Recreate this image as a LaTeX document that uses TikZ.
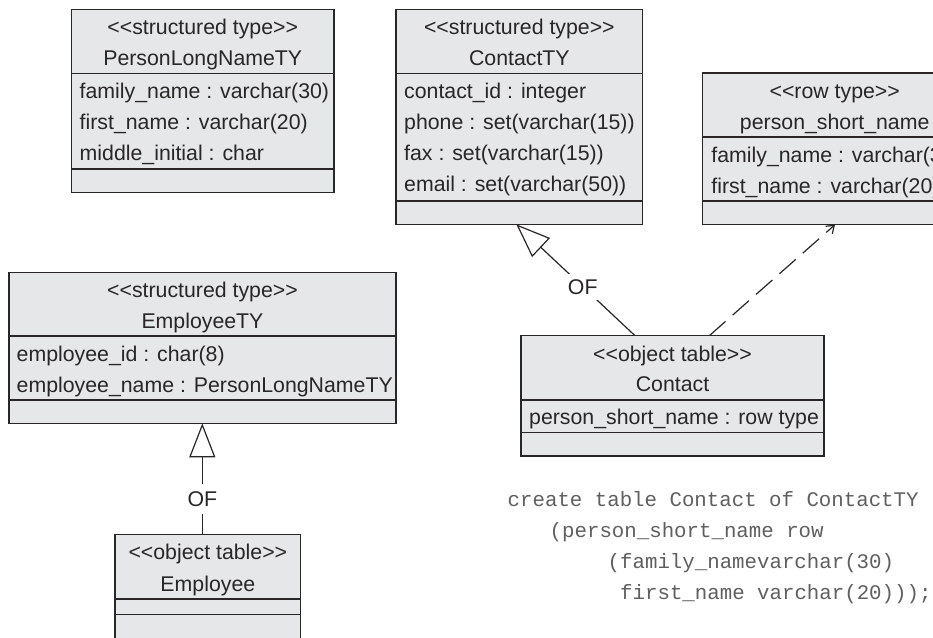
\documentclass[tikz,border=0pt]{standalone}
\usepackage{fontspec}
\setmainfont{Liberation Sans}
\newfontfamily\codefont{Liberation Mono}
\usetikzlibrary{arrows.meta,calc}

\definecolor{boxfill}{RGB}{230,231,232}
\definecolor{ink}{RGB}{40,38,39}
\definecolor{codeink}{RGB}{95,95,95}

\newcommand\umlfont{\fontsize{21.3}{25}\selectfont}

\tikzset{
  umlbox/.style={draw=ink, fill=boxfill, line width=1.4pt, rectangle,
    inner sep=0pt, outer sep=0pt, anchor=north west},
  rule/.style={draw=ink, line width=1.4pt},
  title/.style={anchor=base, inner sep=0pt, text=ink, font=\umlfont},
  attr/.style={anchor=base west, inner sep=0pt, text=ink, font=\umlfont},
  code/.style={anchor=base west, inner sep=0pt, text=codeink,
    font=\codefont\fontsize{20.75}{31}\selectfont},
  conn/.style={draw=ink, line width=1.2pt},
  gen/.style={conn, -{Triangle[open, length=34pt, width=26pt]}},
  dep/.style={conn, dash pattern=on 21.7pt off 9.5pt,
    -{Straight Barb[length=7pt, width=10pt]}},
  oflabel/.style={fill=white, inner xsep=3pt, inner ysep=7pt, text=ink, font=\umlfont},
}

% horizontal compartment rule of a class box, #2 points below its top edge
\newcommand\classrule[2]{%
  \draw[rule] ($(#1.north west)+(0,#2)$) -- ($(#1.north east)+(0,#2)$);}

\begin{document}
\begin{tikzpicture}[x=1pt, y=-1pt]
\useasboundingbox (0,0) rectangle (933,637);
\fill[white] (0,0) rectangle (933,637);
\clip (0,0) rectangle (933,637);

% ---- PersonLongNameTY
\node[umlbox, minimum width=262.5pt, minimum height=183.2pt] (plnty) at (71.5,9.3) {};
\classrule{plnty}{64}
\classrule{plnty}{159.7}
\node[title] (plnty-st) at ($(plnty.north)+(0,25)$) {<{}<structured type>{}>};
\node[title] (plnty-nm) at ($(plnty.north)+(0,56)$) {PersonLongNameTY};
\node[attr] (plnty-a1) at ($(plnty.north west)+(8,89)$) {family\_name : varchar(30)};
\node[attr] (plnty-a2) at ($(plnty.north west)+(8,120)$) {first\_name : varchar(20)};
\node[attr] (plnty-a3) at ($(plnty.north west)+(8,151)$) {middle\_initial : char};

% ---- ContactTY
\node[umlbox, minimum width=246.7pt, minimum height=215pt] (contactty) at (396,9.3) {};
\classrule{contactty}{64}
\classrule{contactty}{191.7}
\node[title] (contactty-st) at ($(contactty.north)+(0,25)$) {<{}<structured type>{}>};
\node[title] (contactty-nm) at ($(contactty.north)+(0,56)$) {ContactTY};
\node[attr] (contactty-a1) at ($(contactty.north west)+(8,89)$) {contact\_id : integer};
\node[attr] (contactty-a2) at ($(contactty.north west)+(8,120)$) {phone : set(varchar(15))};
\node[attr] (contactty-a3) at ($(contactty.north west)+(8,151)$) {fax : set(varchar(15))};
\node[attr] (contactty-a4) at ($(contactty.north west)+(8,182)$) {email : set(varchar(50))};

% ---- person_short_name row type
\node[umlbox, minimum width=264pt, minimum height=151.7pt] (rowty) at (702.7,73) {};
\classrule{rowty}{64}
\classrule{rowty}{128}
\node[title] (rowty-st) at ($(rowty.north)+(0,25)$) {<{}<row type>{}>};
\node[title] (rowty-nm) at ($(rowty.north)+(0,56)$) {person\_short\_name};
\node[attr] (rowty-a1) at ($(rowty.north west)+(8.5,89)$) {family\_name : varchar(30)};
\node[attr] (rowty-a2) at ($(rowty.north west)+(8.5,120)$) {first\_name : varchar(20)};

% ---- EmployeeTY
\node[umlbox, minimum width=387pt, minimum height=151pt] (employeety) at (9,272.3) {};
\classrule{employeety}{63.7}
\classrule{employeety}{127.7}
\node[title] (employeety-st) at ($(employeety.north)+(0,25)$) {<{}<structured type>{}>};
\node[title] (employeety-nm) at ($(employeety.north)+(0,56)$) {EmployeeTY};
\node[attr] (employeety-a1) at ($(employeety.north west)+(7.5,89)$) {employee\_id : char(8)};
\node[attr] (employeety-a2) at ($(employeety.north west)+(7.5,120)$) {employee\_name : PersonLongNameTY};

% ---- Employee object table
\node[umlbox, minimum width=185.7pt, minimum height=104.5pt] (employee) at (115,534.3) {};
\classrule{employee}{64.7}
\classrule{employee}{80}
\node[title] (employee-st) at ($(employee.north)+(0,25.4)$) {<{}<object table>{}>};
\node[title] (employee-nm) at ($(employee.north)+(0,57)$) {Employee};

% ---- Contact object table
\node[umlbox, minimum width=303pt, minimum height=120.3pt] (contact) at (521,335.7) {};
\classrule{contact}{64.3}
\classrule{contact}{96.6}
\node[title] (contact-st) at ($(contact.north)+(0,25.3)$) {<{}<object table>{}>};
\node[title] (contact-nm) at ($(contact.north)+(0,55.6)$) {Contact};
\node[attr] (contact-a1) at ($(contact.north west)+(8,88.6)$) {person\_short\_name : row type};

% ---- connectors
\draw[gen] ($(employee.north west)+(87.3,0)$)
  -- node[oflabel, pos=0.318] (of-employee) {OF}
  ($(employeety.south west)+(193.3,0)$);
\draw[gen] ($(contact.north west)+(114,0)$)
  -- node[oflabel, pos=0.44, inner ysep=5.5pt] (of-contact) {OF}
  ($(contactty.south west)+(120.3,0)$);
\draw[dep] ($(contact.north west)+(188.3,0)$)
  -- ($(rowty.south west)+(132.3,0)$);

% ---- SQL statement
\node[code] (code1) at (507.5,506) {create table Contact of ContactTY};
\node[code] (code2) at (549.5,537) {(person\_short\_name row};
\node[code] (code3) at (607.5,568) {(family\_namevarchar(30)};
\node[code] (code4) at (620,599) {first\_name varchar(20)));};
\end{tikzpicture}
\end{document}
